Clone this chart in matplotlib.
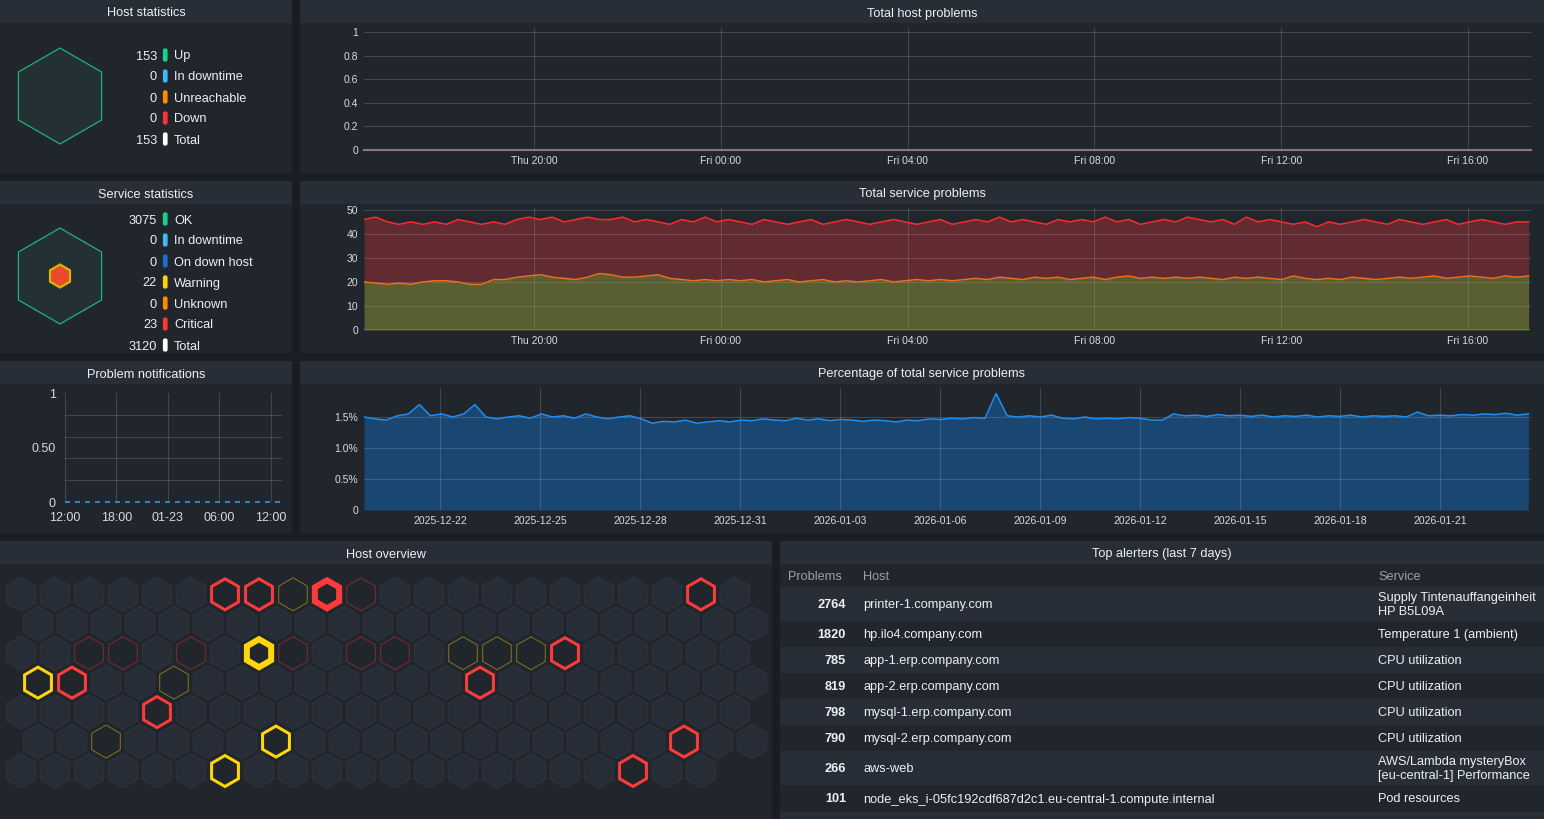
import numpy as np
import matplotlib
matplotlib.use("Agg")
import matplotlib.pyplot as plt
from matplotlib.patches import Rectangle, RegularPolygon, FancyBboxPatch

plt.rcParams["font.family"] = ["Liberation Sans", "DejaVu Sans"]

W, H = 1544, 819
PAGE_BG = "#1a1d22"
PANEL_BG = "#21262d"
TITLE_BG = "#282e37"
ROW_LIGHT = "#282e37"
TEXT = "#eef0f2"
MUTED = "#9ba1a9"
GRID = "#9aa0aa"
DY = 1.5  # nudge for text baseline

# ---------------- data ----------------
host_stat_labels = ["Up", "In downtime", "Unreachable", "Down", "Total"]
host_stat_values = [153, 0, 0, 0, 153]
host_stat_colors = ["#15d38b", "#3fb9f2", "#ff8c00", "#ff3434", "#ffffff"]

service_stat_labels = ["OK", "In downtime", "On down host", "Warning",
                       "Unknown", "Critical", "Total"]
service_stat_values = [3075, 0, 0, 22, 0, 23, 3120]
service_stat_colors = ["#15d38b", "#3fb9f2", "#1e6ec8", "#ffd200",
                       "#ff8c00", "#ff3434", "#ffffff"]

# hours relative to Thu 20:00
time_ticks = [0, 4, 8, 12, 16, 20]
time_tick_labels = ["Thu 20:00", "Fri 00:00", "Fri 04:00",
                    "Fri 08:00", "Fri 12:00", "Fri 16:00"]
time_range = (-3.64, 21.35)

host_problem_values = [0, 0]

warning_values = [
    20, 19.5, 19, 19.5, 19, 20, 20.5, 20.5, 20, 19, 19,
    21, 21, 22, 22.5, 23, 22, 21.5, 21, 22, 23.5,
    23, 22, 22, 22.5, 23, 21.5, 21, 20.5, 21, 20.5,
    21, 20.5, 21, 20, 20.5, 21, 20, 20.5, 21, 20,
    20.5, 20, 20.5, 21, 20, 20.5, 21, 20.5, 21, 20.5,
    21, 21.5, 21, 22, 21.5, 21, 22, 21.5, 22, 21,
    21.5, 22, 21, 22, 22.5, 21.5, 22, 21.5, 22, 21.5,
    22, 21.5, 21, 22, 21.5, 22, 21.5, 21, 22.5, 21.5,
    21, 21.5, 21, 22, 21.5, 21, 21.5, 22, 21.5, 22,
    22.5, 21.5, 22, 22.5, 22, 21.5, 22.5, 22, 22.5,
]
warning_plus_critical = [
    46, 47, 45, 44, 45, 44, 45, 44, 46, 45, 44,
    45, 44, 46, 47, 46, 47, 45, 46, 47, 46,
    46, 47, 45, 46, 45, 44, 46, 45, 47, 45,
    46, 45, 44, 46, 45, 44, 45, 46, 44, 45,
    46, 45, 44, 45, 46, 45, 44, 45, 46, 44,
    45, 46, 45, 47, 45, 46, 45, 44, 46, 45,
    46, 45, 47, 45, 46, 44, 45, 46, 45, 47,
    46, 45, 46, 44, 47, 45, 46, 45, 44, 45,
    43, 45, 44, 45, 46, 45, 44, 46, 45, 44,
    45, 46, 44, 45, 46, 45, 44, 45, 45,
]

# days relative to 2025-12-22
pct_ticks = [0, 3, 6, 9, 12, 15, 18, 21, 24, 27, 30]
pct_tick_labels = ["2025-12-22", "2025-12-25", "2025-12-28", "2025-12-31",
                   "2026-01-03", "2026-01-06", "2026-01-09", "2026-01-12",
                   "2026-01-15", "2026-01-18", "2026-01-21"]
pct_range = (-2.28, 32.73)
pct_values = [
    1.50, 1.47, 1.45, 1.52, 1.55, 1.70, 1.52, 1.55, 1.50, 1.55,
    1.70, 1.50, 1.47, 1.50, 1.52, 1.48, 1.55, 1.50, 1.52, 1.48,
    1.55, 1.50, 1.47, 1.50, 1.52, 1.47, 1.40, 1.43, 1.42, 1.45,
    1.40, 1.42, 1.44, 1.42, 1.45, 1.44, 1.47, 1.45, 1.44, 1.48,
    1.45, 1.47, 1.44, 1.46, 1.45, 1.43, 1.45, 1.44, 1.42, 1.45,
    1.44, 1.47, 1.46, 1.48, 1.47, 1.49, 1.48, 1.88, 1.52, 1.50,
    1.52, 1.50, 1.53, 1.48, 1.47, 1.50, 1.47, 1.48, 1.47, 1.49,
    1.48, 1.45, 1.45, 1.55, 1.52, 1.53, 1.51, 1.54, 1.52, 1.53,
    1.51, 1.53, 1.50, 1.52, 1.51, 1.53, 1.50, 1.52, 1.51, 1.53,
    1.50, 1.52, 1.51, 1.52, 1.50, 1.58, 1.52, 1.53, 1.52, 1.54,
    1.53, 1.55, 1.54, 1.56, 1.53, 1.55,
]

# hours relative to 12:00 on 01-22
notif_ticks = [0, 6, 12, 18, 24]
notif_tick_labels = ["12:00", "18:00", "01-23", "06:00", "12:00"]
notif_range = (0, 25.3)
notif_values = [0, 0]

# host overview grid: hosts per row and the hosts with problems
hex_row_lengths = [22, 22, 22, 22, 22, 22, 21]
hex_states = {
    (0, 6): "crit", (0, 7): "crit", (0, 8): "warn_dim", (0, 9): "crit_heavy",
    (0, 10): "crit_dim", (0, 20): "crit",
    (2, 2): "crit_dim", (2, 3): "crit_dim", (2, 5): "crit_dim",
    (2, 7): "warn_heavy", (2, 8): "crit_dim", (2, 10): "crit_dim",
    (2, 11): "crit_dim", (2, 13): "warn_dim", (2, 14): "warn_dim",
    (2, 15): "warn_dim", (2, 16): "crit",
    (3, 0): "warn", (3, 1): "crit", (3, 4): "warn_dim", (3, 13): "crit",
    (4, 4): "crit",
    (5, 2): "warn_dim", (5, 7): "warn", (5, 19): "crit",
    (6, 6): "warn", (6, 18): "crit",
}
hex_styles = {
    "crit": ("#ff3a3a", 3.0),
    "crit_heavy": ("#ff3a3a", 6.0),
    "crit_dim": ("#7d2a30", 1.0),
    "warn": ("#ffd60a", 3.0),
    "warn_heavy": ("#ffd60a", 6.0),
    "warn_dim": ("#84741a", 1.0),
}

alert_problems = [2764, 1820, 785, 819, 798, 790, 266, 101]
alert_hosts = ["printer-1.company.com", "hp.ilo4.company.com",
               "app-1.erp.company.com", "app-2.erp.company.com",
               "mysql-1.erp.company.com", "mysql-2.erp.company.com",
               "aws-web",
               "node_eks_i-05fc192cdf687d2c1.eu-central-1.compute.internal"]
alert_services = ["Supply Tintenauffangeinheit\nHP B5L09A",
                  "Temperature 1 (ambient)", "CPU utilization",
                  "CPU utilization", "CPU utilization", "CPU utilization",
                  "AWS/Lambda mysteryBox\n[eu-central-1] Performance",
                  "Pod resources"]

# ---------------- figure ----------------
fig = plt.figure(figsize=(W / 100, H / 100), dpi=100, facecolor=PAGE_BG)
bg = fig.add_axes([0, 0, 1, 1])
bg.set_xlim(0, W)
bg.set_ylim(H, 0)
bg.axis("off")


def panel(x0, y0, x1, y1, title):
    bg.add_patch(Rectangle((x0, y0), x1 - x0, y1 - y0, color=PANEL_BG, lw=0))
    bg.add_patch(Rectangle((x0, y0), x1 - x0, 23, color=TITLE_BG, lw=0))
    bg.text((x0 + x1) / 2, y0 + 12 + DY, title, color=TEXT, fontsize=9.2,
            ha="center", va="center")


def px_axes(x0, y0, x1, y1):
    return fig.add_axes([x0 / W, 1 - y1 / H, (x1 - x0) / W, (y1 - y0) / H])


def style_chart(ax, fs=7.5, xpad=4.2, ypad=4.3):
    ax.set_facecolor("none")
    for s in ax.spines.values():
        s.set_visible(False)
    ax.tick_params(length=0, colors="#d8dadd", labelsize=fs)
    ax.tick_params(axis="x", pad=xpad)
    ax.tick_params(axis="y", pad=ypad)
    ax.grid(color=GRID, alpha=0.28, lw=0.8)
    ax.set_axisbelow(False)


panel(0, 0, 292, 173, "Host statistics")
panel(300, 0, W, 173, "Total host problems")
panel(0, 181, 292, 353, "Service statistics")
panel(300, 181, W, 353, "Total service problems")
panel(0, 361, 292, 533, "Problem notifications")
panel(300, 361, W, 533, "Percentage of total service problems")
panel(0, 541, 772, H + 5, "Host overview")
panel(780, 541, W, H + 5, "Top alerters (last 7 days)")


# statistics panels
def stat_list(y_first, labels, values, colors):
    for i, (lab, val, col) in enumerate(zip(labels, values, colors)):
        y = y_first + 21 * i
        bg.text(157, y + DY, str(val), color=TEXT, fontsize=9.2,
                ha="right", va="center")
        bg.add_patch(FancyBboxPatch((163.5, y - 6), 3.5, 12,
                                    boxstyle="round,pad=0.6,rounding_size=2",
                                    color=col, lw=0))
        bg.text(174, y + DY, lab, color=TEXT, fontsize=9.2,
                ha="left", va="center")


bg.add_patch(RegularPolygon((60, 96), 6, radius=48, facecolor="#233034",
                            edgecolor="#1db47b", lw=0.9))
stat_list(55, host_stat_labels, host_stat_values, host_stat_colors)

bg.add_patch(RegularPolygon((60, 276), 6, radius=48, facecolor="#233034",
                            edgecolor="#1db47b", lw=0.9))
bg.add_patch(RegularPolygon((60, 276), 6, radius=11.5, facecolor="#ea4a2e",
                            edgecolor="#d9b400", lw=1.6))
stat_list(219, service_stat_labels, service_stat_values, service_stat_colors)

# total host problems
ax1 = px_axes(364, 28, 1531, 150)
style_chart(ax1)
ax1.plot(time_range, host_problem_values, color="#8c7580", lw=1.5,
         zorder=3, clip_on=False)
ax1.set_xlim(*time_range)
ax1.set_ylim(0, 1.035)
ax1.set_xticks(time_ticks, time_tick_labels)
ax1.set_yticks([0, 0.2, 0.4, 0.6, 0.8, 1.0],
               ["0", "0.2", "0.4", "0.6", "0.8", "1"])

# total service problems
ax2 = px_axes(364, 208, 1531, 330)
style_chart(ax2)
t_svc = np.linspace(time_range[0], 21.3, len(warning_values))
ax2.fill_between(t_svc, 0, warning_values, color="#5a5f32", lw=0, zorder=1)
ax2.fill_between(t_svc, warning_values, warning_plus_critical,
                 color="#622a31", lw=0, zorder=1)
ax2.plot(t_svc, warning_values, color="#e8711c", lw=1.1, zorder=3)
ax2.plot(t_svc, warning_plus_critical, color="#ff2a2a", lw=1.1, zorder=3)
ax2.plot(t_svc, np.zeros(len(t_svc)), color="#3d7fc0", lw=1.2, zorder=3)
ax2.set_xlim(*time_range)
ax2.set_ylim(0, 50.8)
ax2.set_xticks(time_ticks, time_tick_labels)
ax2.set_yticks([0, 10, 20, 30, 40, 50])

# percentage of total service problems
ax3 = px_axes(364, 388, 1531, 510)
style_chart(ax3)
t_pct = np.linspace(pct_range[0], 32.65, len(pct_values))
ax3.fill_between(t_pct, 0, pct_values, color="#1a4672", lw=0, zorder=1)
ax3.plot(t_pct, pct_values, color="#1f8ef1", lw=1.1, zorder=3)
ax3.set_xlim(*pct_range)
ax3.set_ylim(0, 1.968)
ax3.set_xticks(pct_ticks, pct_tick_labels)
ax3.set_yticks([0, 0.5, 1.0, 1.5], ["0", "0.5%", "1.0%", "1.5%"])

# problem notifications
ax4 = px_axes(65, 393, 282, 502)
style_chart(ax4, fs=9, xpad=7.5, ypad=6.5)
ax4.grid(False)
ax4.plot(notif_range, notif_values, color="#2e9be0", lw=1.2, ls=(0, (3, 3)),
         zorder=3, clip_on=False)
ax4.set_xlim(*notif_range)
ax4.set_ylim(0, 1)
ax4.set_xticks(notif_ticks, notif_tick_labels)
ax4.set_yticks([0, 0.5, 1], ["0", "0.50", "1"])
ax4.set_yticks(np.arange(0, 1.01, 0.2), minor=True)
ax4.tick_params(which="minor", length=0)
ax4.grid(which="minor", axis="y", color=GRID, alpha=0.28, lw=0.8)
ax4.grid(which="major", axis="x", color=GRID, alpha=0.28, lw=0.8)

# host overview hexagons
HEX_R = 17
for row, n in enumerate(hex_row_lengths):
    cy = 594.3 + 29.45 * row
    for col in range(n):
        cx = 21 + 34 * col + (17 if row % 2 else 0)
        state = hex_states.get((row, col))
        if state is None:
            bg.add_patch(RegularPolygon((cx, cy), 6, radius=HEX_R,
                                        facecolor="#272d36",
                                        edgecolor="#2d343e", lw=0.8))
        else:
            color, lw_px = hex_styles[state]
            bg.add_patch(RegularPolygon((cx, cy), 6, radius=HEX_R - lw_px / 2,
                                        facecolor=PANEL_BG, edgecolor=color,
                                        lw=lw_px * 0.72, joinstyle="miter"))

# top alerters table
row_bounds = [(587, 621), (621, 647), (647, 673), (673, 699),
              (699, 725), (725, 751), (751, 785), (785, 812)]
for x, lab in [(788, "Problems"), (863, "Host"), (1378, "Service")]:
    bg.text(x, 575 + DY, lab, color=MUTED, fontsize=9.2, ha="left", va="center")
for i, (y0, y1) in enumerate(row_bounds):
    if i % 2 == 0:
        bg.add_patch(Rectangle((780, y0), W - 780, y1 - y0, color=ROW_LIGHT, lw=0))
    yc = (y0 + y1) / 2 - 0.5 + DY
    bg.text(846, yc, str(alert_problems[i]), color=TEXT, fontsize=9.2,
            fontweight="bold", ha="right", va="center")
    bg.text(863, yc, alert_hosts[i], color=TEXT, fontsize=9.2,
            ha="left", va="center")
    bg.text(1378, yc, alert_services[i], color=TEXT, fontsize=9.2,
            ha="left", va="center", linespacing=1.3)
bg.add_patch(Rectangle((780, 812), W - 780, 10, color=ROW_LIGHT, lw=0))

fig.savefig("out.png", dpi=100, facecolor=PAGE_BG)
